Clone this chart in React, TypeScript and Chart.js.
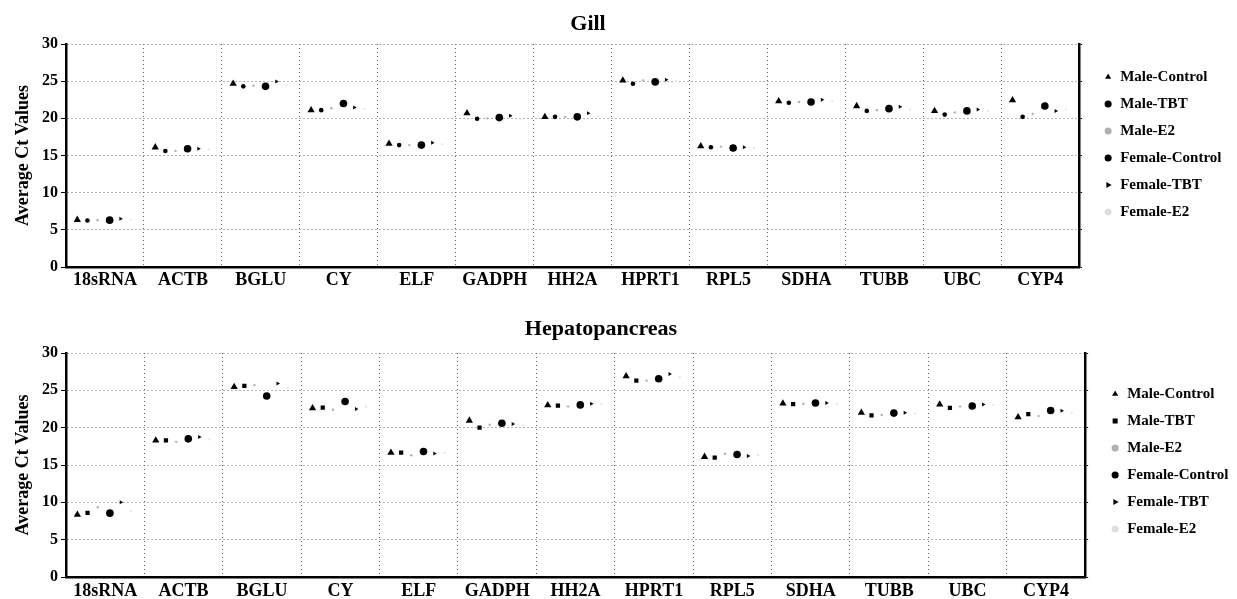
import React, { useEffect, useRef } from "react";
import { Chart, registerables } from "chart.js";

Chart.register(...registerables);

// ---------- data ----------
const categories = ["18sRNA", "ACTB", "BGLU", "CY", "ELF", "GADPH", "HH2A", "HPRT1", "RPL5", "SDHA", "TUBB", "UBC", "CYP4"];
const seriesNames = ["Male-Control", "Male-TBT", "Male-E2", "Female-Control", "Female-TBT", "Female-E2"];
const yTicks = [0, 5, 10, 15, 20, 25, 30];
const panelTitles = ["Gill", "Hepatopancreas"];

const gillMaleControl = [6.35, 16.1, 24.65, 21.1, 16.6, 20.7, 20.2, 25.1, 16.25, 22.3, 21.65, 21.0, 22.45];
const gillMaleTBT = [6.25, 15.6, 24.3, 21.1, 16.4, 19.95, 20.2, 24.65, 16.1, 22.1, 21.0, 20.5, 20.2];
const gillMaleE2 = [6.3, 15.6, 24.4, 21.35, 16.4, 20.0, 20.2, 25.1, 16.2, 22.2, 21.1, 20.8, 20.6];
const gillFemaleControl = [6.3, 15.9, 24.3, 22.0, 16.4, 20.1, 20.2, 24.9, 16.0, 22.2, 21.3, 21.0, 21.65];
const gillFemaleTBT = [6.5, 15.9, 24.95, 21.45, 16.7, 20.35, 20.7, 25.2, 16.1, 22.5, 21.55, 21.2, 21.0];
const gillFemaleE2 = [6.4, 15.8, 24.5, 21.3, 16.5, 19.9, 20.3, 25.0, 16.0, 22.3, 21.2, 21.0, 21.2];

const hepMaleControl = [8.35, 18.3, 25.45, 22.6, 16.65, 20.95, 23.0, 26.9, 16.1, 23.25, 22.0, 23.1, 21.4];
const hepMaleTBT = [8.6, 18.3, 25.6, 22.7, 16.65, 20.0, 22.95, 26.3, 16.0, 23.15, 21.65, 22.65, 21.8];
const hepMaleE2 = [9.35, 18.1, 25.7, 22.4, 16.3, 20.4, 22.85, 26.3, 16.5, 23.2, 21.7, 22.85, 21.55];
const hepFemaleControl = [8.55, 18.5, 24.25, 23.5, 16.8, 20.6, 23.05, 26.55, 16.4, 23.3, 21.95, 22.9, 22.3];
const hepFemaleTBT = [10.0, 18.75, 25.9, 22.5, 16.55, 20.5, 23.2, 27.2, 16.2, 23.3, 22.0, 23.1, 22.25];
const hepFemaleE2 = [8.8, 18.4, 25.3, 22.8, 16.6, 20.3, 23.2, 26.8, 16.3, 23.2, 21.9, 23.05, 22.0];

const gillSeries = [gillMaleControl, gillMaleTBT, gillMaleE2, gillFemaleControl, gillFemaleTBT, gillFemaleE2];
const hepSeries = [hepMaleControl, hepMaleTBT, hepMaleE2, hepFemaleControl, hepFemaleTBT, hepFemaleE2];

// ---------- styles ----------
const FONT = "'Liberation Serif', 'Times New Roman', serif";
const seriesOffsets = [-0.355, -0.225, -0.095, 0.06, 0.2, 0.33];

type PanelCfg = {
  top: number;
  height: number;
  canvasWidth: number;
  titleCenterX: number;
  titleCenterY: number;
  plotTop: number;
  xHeight: number;
  xPad: number;
  padRight: number;
  yRWidth: number;
  legendTitlePadTop: number;
  tbtStyle: string;
  tbtRadius: number;
  series: number[][];
};

const panels: PanelCfg[] = [
  {
    top: 0,
    height: 290,
    canvasWidth: 1240,
    titleCenterX: 588,
    titleCenterY: 23,
    plotTop: 44,
    xHeight: 23,
    xPad: 3,
    padRight: 8.5,
    yRWidth: 12.5,
    legendTitlePadTop: 1.5,
    tbtStyle: "circle",
    tbtRadius: 2.3,
    series: gillSeries,
  },
  {
    top: 290,
    height: 309,
    canvasWidth: 1240,
    titleCenterX: 601,
    titleCenterY: 38,
    plotTop: 63,
    xHeight: 22,
    xPad: 4,
    padRight: 1.5,
    yRWidth: 13.5,
    legendTitlePadTop: 9.5,
    tbtStyle: "rect",
    tbtRadius: 3,
    series: hepSeries,
  },
];

function makeChart(canvas: HTMLCanvasElement, cfg: PanelCfg) {
  const styles = [
    { pointStyle: "triangle", radius: 4.2, color: "#000", rotation: 0 },
    { pointStyle: cfg.tbtStyle, radius: cfg.tbtRadius, color: "#000", rotation: 0 },
    { pointStyle: "circle", radius: 1.2, color: "#b0b0b0", rotation: 0 },
    { pointStyle: "circle", radius: 3.8, color: "#000", rotation: 0 },
    { pointStyle: "triangle", radius: 2.3, color: "#000", rotation: 90 },
    { pointStyle: "circle", radius: 1, color: "#dedede", rotation: 0 },
  ];
  const datasets = seriesNames.map((name, s) => ({
    label: name,
    data: cfg.series[s].map((v, i) => ({ x: i + seriesOffsets[s], y: v })),
    xAxisID: "xData",
    yAxisID: "y",
    pointStyle: styles[s].pointStyle as any,
    pointRadius: styles[s].radius,
    pointRotation: styles[s].rotation,
    backgroundColor: styles[s].color,
    borderColor: styles[s].color,
    borderWidth: 0,
    pointBorderWidth: 0,
    showLine: false,
  }));

  return new Chart(canvas, {
    type: "scatter",
    data: { datasets },
    options: {
      animation: false,
      responsive: false,
      layout: { padding: { left: 0, right: cfg.padRight, top: cfg.plotTop, bottom: 0 } },
      plugins: {
        title: { display: false },
        legend: {
          display: true,
          position: "right",
          align: "start",
          title: {
            display: true,
            text: "",
            font: { size: 10 },
            padding: { top: cfg.legendTitlePadTop, bottom: 0 },
          },
          labels: {
            usePointStyle: true,
            boxWidth: 9,
            boxHeight: 5,
            padding: 12,
            color: "#000",
            font: { family: FONT, size: 15, weight: "bold" },
          },
        },
        tooltip: { enabled: false },
      },
      scales: {
        x: {
          type: "category",
          labels: categories,
          offset: true,
          position: "bottom",
          grid: {
            display: true,
            offset: true,
            color: "#666",
            lineWidth: 1,
            drawTicks: false,
          },
          border: { display: true, color: "#000", width: 2.5, dash: [1, 3] },
          ticks: {
            color: "#000",
            padding: cfg.xPad,
            autoSkip: false,
            maxRotation: 0,
            font: { family: FONT, size: 18, weight: "bold" },
          },
          afterFit: (axis: any) => {
            axis.height = cfg.xHeight;
          },
        },
        xData: {
          type: "linear",
          display: false,
          min: -0.5,
          max: categories.length - 0.5,
        },
        y: {
          type: "linear",
          position: "left",
          min: yTicks[0],
          max: yTicks[yTicks.length - 1],
          afterBuildTicks: (axis: any) => {
            axis.ticks = yTicks.map((v) => ({ value: v }));
          },
          grid: {
            display: true,
            color: "#666",
            lineWidth: 1,
            drawTicks: true,
            tickLength: 5,
            tickColor: "#000",
          },
          border: { display: true, color: "#000", width: 2.5, dash: [1, 3] },
          ticks: {
            color: "#000",
            padding: 3,
            font: { family: FONT, size: 16, weight: "bold" },
          },
          title: {
            display: true,
            text: "Average Ct Values",
            color: "#000",
            font: { family: FONT, size: 18, weight: "bold" },
            padding: { top: 12.2, bottom: 0 },
          },
          afterFit: (axis: any) => {
            axis.width = 66;
          },
        },
        yR: {
          type: "linear",
          position: "right",
          min: yTicks[0],
          max: yTicks[yTicks.length - 1],
          afterBuildTicks: (axis: any) => {
            axis.ticks = yTicks.map((v) => ({ value: v }));
          },
          grid: {
            display: true,
            drawOnChartArea: false,
            drawTicks: true,
            tickLength: 3,
            tickColor: "#000",
          },
          border: { display: true, color: "#000", width: 2.5 },
          ticks: { display: false },
          afterFit: (axis: any) => {
            axis.width = cfg.yRWidth;
          },
        },
      },
    } as any,
  });
}

export default function App() {
  const topRef = useRef<HTMLCanvasElement | null>(null);
  const botRef = useRef<HTMLCanvasElement | null>(null);

  useEffect(() => {
    const charts: Chart[] = [];
    if (topRef.current) charts.push(makeChart(topRef.current, panels[0]));
    if (botRef.current) charts.push(makeChart(botRef.current, panels[1]));
    return () => {
      charts.forEach((c) => c.destroy());
    };
  }, []);

  const refs = [topRef, botRef];

  return (
    <div style={{ position: "absolute", left: 0, top: 0, width: 1237, height: 599, background: "#fff", overflow: "hidden" }}>
      {panels.map((p, k) => (
        <React.Fragment key={k}>
          <canvas
            ref={refs[k]}
            width={p.canvasWidth}
            height={p.height}
            style={{ position: "absolute", left: 0, top: p.top, display: "block" }}
          />
          <div
            style={{
              position: "absolute",
              left: p.titleCenterX - 200,
              width: 400,
              top: p.top + p.titleCenterY - 13,
              height: 26,
              lineHeight: "26px",
              textAlign: "center",
              fontFamily: FONT,
              fontWeight: "bold",
              fontSize: 22,
              color: "#000",
            }}
          >
            {panelTitles[k]}
          </div>
        </React.Fragment>
      ))}
    </div>
  );
}
